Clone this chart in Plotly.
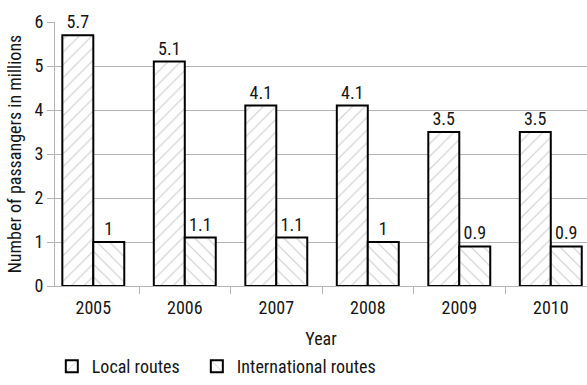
import plotly.graph_objects as go

years = ["2005", "2006", "2007", "2008", "2009", "2010"]
local_routes = [5.7, 5.1, 4.1, 4.1, 3.5, 3.5]
international_routes = [1, 1.1, 1.1, 1, 0.9, 0.9]
y_ticks = [0, 1, 2, 3, 4, 5, 6]

FONT = "Roboto Condensed, Liberation Sans, sans-serif"
TXT = "#151515"
GRID = "#b4b4b4"

fig = go.Figure()
fig.add_trace(go.Bar(
    name="Local routes", x=years, y=local_routes, legend="legend",
    text=[f"{v:g}" for v in local_routes], textposition="outside",
    cliponaxis=False,
    marker=dict(color="white", line=dict(color="black", width=2),
                pattern=dict(shape="/", fgcolor="#999999", bgcolor="white", size=9, solidity=0.12)),
))
fig.add_trace(go.Bar(
    name="International routes", x=years, y=international_routes, legend="legend2",
    text=[f"{v:g}" for v in international_routes], textposition="outside",
    cliponaxis=False,
    marker=dict(color="white", line=dict(color="black", width=2),
                pattern=dict(shape="\\", fgcolor="#999999", bgcolor="white", size=9, solidity=0.12)),
))

legend_common = dict(orientation="h", xanchor="left", y=-0.305, yanchor="middle",
                     font=dict(family=FONT, size=18, color=TXT), bgcolor="rgba(0,0,0,0)")

fig.update_layout(
    width=587, height=385,
    margin=dict(l=55, r=0, t=22, b=97),
    paper_bgcolor="white", plot_bgcolor="white",
    font=dict(family=FONT, size=18, color=TXT),
    barmode="group", bargap=0.323, bargroupgap=0,
    showlegend=True,
    legend=dict(x=-0.006, **legend_common),
    legend2=dict(x=0.2666, **legend_common),
)
fig.update_traces(textfont=dict(family=FONT, size=18, color=TXT))
fig.update_xaxes(
    type="category", range=[-0.4186, 5.396],
    tickson="boundaries", ticks="outside", ticklen=7, tickcolor=GRID,
    ticklabelstandoff=5,
    tickfont=dict(family=FONT, size=18, color=TXT),
    showline=True, linecolor=GRID, linewidth=1, showgrid=False,
    title=dict(text="Year", standoff=15, font=dict(family=FONT, size=18, color=TXT)),
)
fig.update_yaxes(
    range=[0, 6], tickvals=y_ticks, ticks="outside", ticklen=7, tickcolor=GRID,
    tickfont=dict(family=FONT, size=18, color=TXT),
    showline=True, linecolor=GRID, linewidth=1,
    showgrid=True, gridcolor=GRID, gridwidth=1, zeroline=False,
    title=dict(text="Number of passangers in millions", standoff=8,
               font=dict(family=FONT, size=18, color=TXT)),
)

fig.write_html("out.html")
